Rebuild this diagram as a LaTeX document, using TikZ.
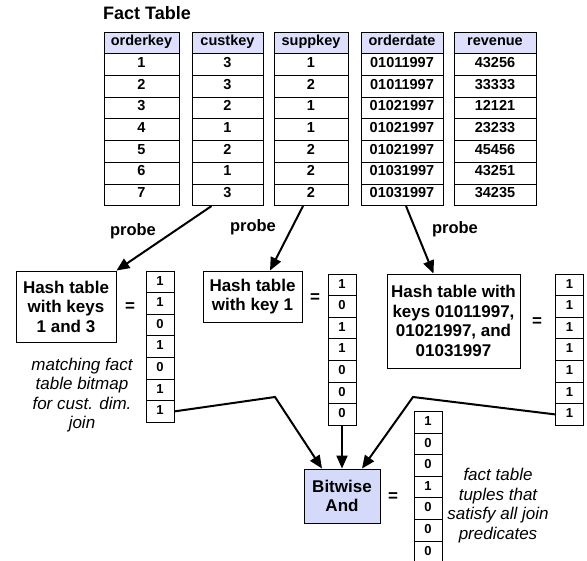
\documentclass[tikz,border=0pt]{standalone}
\usepackage{fontspec}
\setmainfont{Liberation Sans}
\usetikzlibrary{arrows.meta}
\definecolor{hdrblue}{RGB}{221,223,252}
\definecolor{andblue}{RGB}{214,218,250}
\tikzset{
  hdr/.style={draw, line width=0.9pt, fill=hdrblue, minimum height=21.67pt, inner sep=0pt, text height=0.75em, text depth=0.2em, font=\fontsize{14.5}{16}\selectfont\bfseries},
  cell/.style={draw, line width=0.9pt, fill=white, minimum height=21.67pt, inner sep=0pt, text height=0.75em, text depth=0.2em, font=\fontsize{14.5}{16}\selectfont\bfseries},
  bit/.style={draw, line width=0.9pt, minimum width=28pt, minimum height=21.6pt, inner sep=0pt, text height=0.75em, text depth=0.1em, font=\fontsize{13}{15}\selectfont\bfseries},
  hashbox/.style={draw, line width=0.9pt, align=center, inner sep=0pt, font=\fontsize{17}{19.5}\selectfont\bfseries},
  note/.style={align=center, inner sep=0pt, font=\fontsize{17}{19.5}\selectfont\itshape},
  lbl/.style={inner sep=0pt, font=\fontsize{16.5}{18}\selectfont\bfseries},
  eq/.style={inner sep=0pt, font=\fontsize{17}{18}\selectfont\bfseries},
  link/.style={line width=2pt, -{Triangle[length=13pt,width=11pt]}},
}
\begin{document}
\begin{tikzpicture}[x=1pt,y=-1pt]
	\useasboundingbox (0,0) rectangle (587,561);
	
	% fact table
	\node[anchor=west, inner sep=0pt, font=\fontsize{18}{20}\selectfont\bfseries] (title) at (103,13) {Fact Table};
	\foreach \c/\x/\w/\h/\vals in {ok/141.5/75/orderkey/{1,2,3,4,5,6,7},
		ck/227.5/71/custkey/{3,3,2,1,2,1,3},
		sk/311/74/suppkey/{1,2,1,1,2,2,2},
		od/402/82/orderdate/{01011997,01011997,01021997,01021997,01021997,01031997,01031997},
		rv/495/82/revenue/{43256,33333,12121,23233,45456,43251,34235}}
	{
		\node[hdr, minimum width=\w pt] (\c-h) at (\x,43.1) {\h};
		\foreach \v [count=\r] in \vals
			\node[cell, minimum width=\w pt] (\c-\r) at (\x,{43.1+\r*21.67}) {\v};
	}
	
	% hash tables
	\node[hashbox, minimum width=100pt, minimum height=71pt] (ht1) at (66,306.5) {Hash table\\with keys\\1 and 3};
	\node[hashbox, minimum width=99pt, minimum height=51pt] (ht2) at (252.5,296.5) {Hash table\\with key 1};
	\node[hashbox, minimum width=133pt, minimum height=94pt] (ht3) at (453.5,321) {Hash table with\\keys 01011997,\\01021997, and\\01031997};
	\node[hashbox, fill=andblue, minimum width=76pt, minimum height=54pt] (and) at (342,496) {Bitwise\\And};
	
	% bitmaps
	\foreach \b/\x/\y/\vals in {bA/160/271/{1,1,0,1,0,1,1},
		bB/342/274/{1,0,1,1,0,0,0},
		bC/569.5/274/{1,1,1,1,1,1,1},
		bR/428/411.5/{1,0,0,1,0,0,0}}
		\foreach \v [count=\r] in \vals
			\node[bit] (\b-\r) at (\x,{\y+(\r-0.5)*21.6}) {\v};
	
	\node[eq] (e1) at (130,307) {=};
	\node[eq] (e2) at (315,298) {=};
	\node[eq] (e3) at (537,322) {=};
	\node[eq] (e4) at (393,497) {=};
	
	\node[lbl] (p1) at (133,231) {probe};
	\node[lbl] (p2) at (253,227) {probe};
	\node[lbl] (p3) at (455,229) {probe};
	
	\node[note] (n1) at (82,395) {matching fact\\table bitmap\\for cust. dim.\\join};
	\node[note] (n2) at (498,505.5) {fact table\\tuples that\\satisfy all join\\predicates};
	
	% probes
	\draw[link] ([xshift=-16pt]ck-7.south) -- (ht1.north east);
	\draw[link] ([xshift=-8pt]sk-7.south) -- ([xshift=17.5pt]ht2.north);
	\draw[link] ([xshift=4pt]od-7.south) -- ([xshift=-20pt]ht3.north);
	
	% into the and
	\coordinate (kA) at (275,397);
	\coordinate (kC) at (413,397);
	\draw[link] (bA-7.east) -- (kA) -- ([xshift=-20pt]and.north);
	\draw[link] (bB-7.south) -- (and.north);
	\draw[link] (bC-7.west) -- (kC) -- ([xshift=20pt]and.north);
\end{tikzpicture}
\end{document}
